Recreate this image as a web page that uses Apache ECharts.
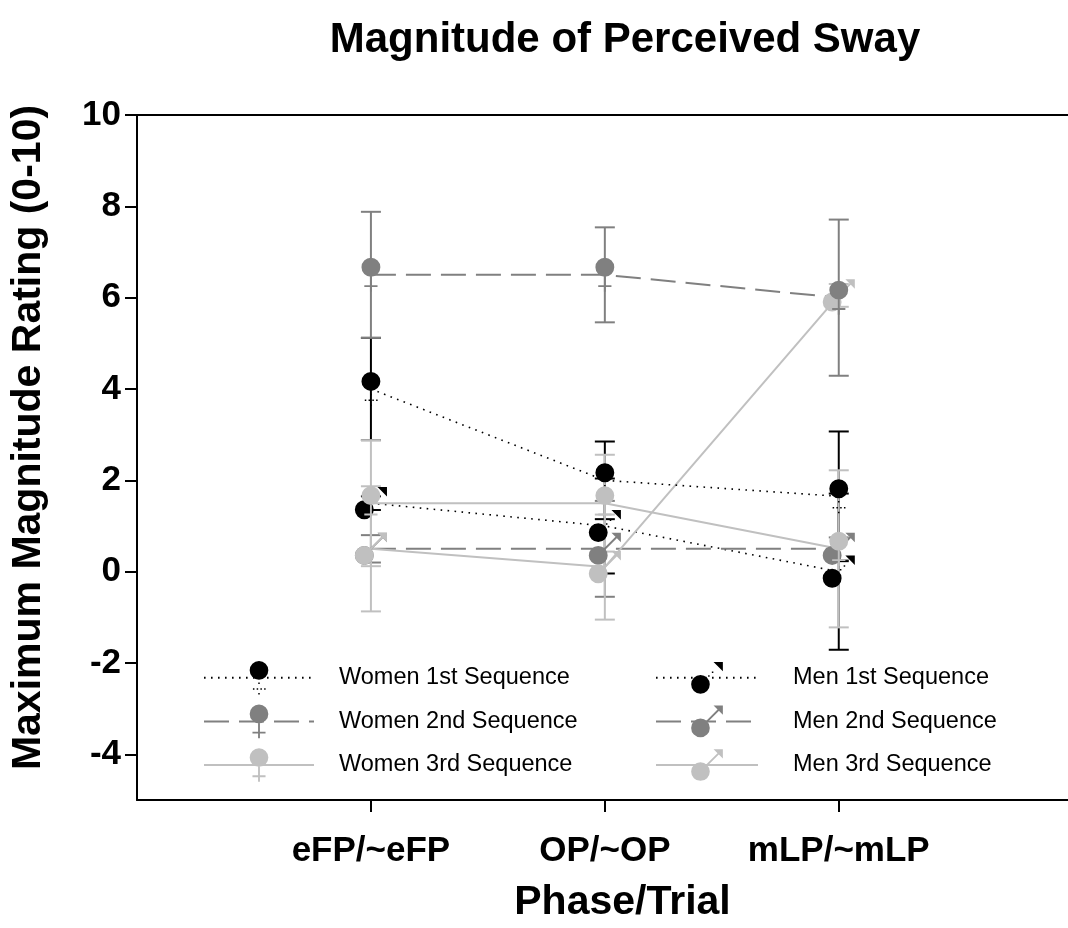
<!DOCTYPE html>
<html>
<head>
<meta charset="utf-8">
<script src="https://cdn.jsdelivr.net/npm/echarts@6/dist/echarts.min.js"></script>
<style>
html,body{margin:0;padding:0;background:#fff;}
#chart{width:1068px;height:928px;}
</style>
</head>
<body>
<div id="chart"></div>
<script>
// ---- data ----
const categories = ['eFP/~eFP', 'OP/~OP', 'mLP/~mLP'];
const yTicks = [-4, -2, 0, 2, 4, 6, 8, 10];
const seriesNames = ['Women 1st Sequence', 'Women 2nd Sequence', 'Women 3rd Sequence',
                     'Men 1st Sequence', 'Men 2nd Sequence', 'Men 3rd Sequence'];
const women1 = [4.0, 2.0, 1.65];
const women1Err = [1.12, 0.85, 1.42];
const women2 = [6.5, 6.5, 6.0];
const women2Err = [1.38, 1.04, 1.71];
const women3 = [1.5, 1.5, 0.5];
const women3Err = [1.38, 1.06, 1.72];
const men1 = [1.5, 1.0, 0.0];
const men1Err = [0.15, 1.04, 1.71];
const men2 = [0.5, 0.5, 0.5];
const men2Err = [0.3, 1.05, 0.25];
const men3 = [0.5, 0.1, 6.05];
const men3Err = [1.37, 1.15, 0.25];

const FONT = '"Liberation Sans", Arial, sans-serif';
const BLACK = '#000000', DGRAY = '#808080', LGRAY = '#c0c0c0';

// gender glyph symbols (36x36 boxes)
const circF = 'M8,10A10,10,0,1,1,28,10A10,10,0,1,1,8,10Z';
const boxF = 'M0,18M36,18';
const FEMALE = 'path://' + boxF + circF + 'M17,20L19,20L19,36L17,36ZM11,29L25,29L25,31L11,31Z';
const FEMALE_DOT = 'path://' + boxF + circF +
  'M17.2,23L18.8,23L18.8,24.6L17.2,24.6ZM17.2,34.4L18.8,34.4L18.8,36L17.2,36Z' +
  'M11.5,29.2L13.1,29.2L13.1,30.8L11.5,30.8ZM15.5,29.2L17.1,29.2L17.1,30.8L15.5,30.8Z' +
  'M19.5,29.2L21.1,29.2L21.1,30.8L19.5,30.8ZM23.5,29.2L25.1,29.2L25.1,30.8L23.5,30.8Z';
const circM = 'M1,25A10,10,0,1,1,21,25A10,10,0,1,1,1,25Z';
const boxM = 'M0,0M36,36';
const headM = 'M35,1L35,11L25,1Z';
const MALE = 'path://' + boxM + circM + 'M16.3,18.3L29.8,4.8L31.2,6.2L17.7,19.7Z' + headM;
const MALE_DOT = 'path://' + boxM + circM +
  'M19.2,15.2L20.8,15.2L20.8,16.8L19.2,16.8ZM23.2,11.2L24.8,11.2L24.8,12.8L23.2,12.8Z' + headM;

function pts(arr) { return arr.map((v, i) => [i + 1, v]); }
function errPts(arr, err) { return arr.map((v, i) => [i + 1, v - err[i], v + err[i]]); }

function errRender(color) {
  return function (params, api) {
    const x = api.value(0), lo = api.value(1), hi = api.value(2);
    const a = api.coord([x, lo]), b = api.coord([x, hi]);
    const hw = 10, st = {stroke: color, lineWidth: 2};
    return {type: 'group', children: [
      {type: 'line', shape: {x1: a[0], y1: a[1], x2: b[0], y2: b[1]}, style: st},
      {type: 'line', shape: {x1: a[0] - hw, y1: a[1], x2: a[0] + hw, y2: a[1]}, style: st},
      {type: 'line', shape: {x1: b[0] - hw, y1: b[1], x2: b[0] + hw, y2: b[1]}, style: st}
    ]};
  };
}

const DOT = [1.6, 5.4];
const DASH = [25, 10];

function lineSeries(name, data, color, dash, width, symbol) {
  return {
    name: name, type: 'line', data: pts(data),
    symbol: symbol, symbolSize: 34, symbolKeepAspect: true,
    showAllSymbol: true,
    itemStyle: {color: color},
    lineStyle: {color: color, width: width, type: dash},
    emphasis: {disabled: true}, animation: false
  };
}
function errSeries(name, data, err, color) {
  return {
    name: name, type: 'custom', data: errPts(data, err),
    renderItem: errRender(color), animation: false, silent: true
  };
}

const series = [
  lineSeries(seriesNames[3], men1, BLACK, DOT, 1.6, MALE_DOT),
  errSeries('m1err', men1, men1Err, BLACK),
  lineSeries(seriesNames[4], men2, DGRAY, DASH, 2, MALE),
  errSeries('m2err', men2, men2Err, DGRAY),
  lineSeries(seriesNames[5], men3, LGRAY, 'solid', 2, MALE),
  errSeries('m3err', men3, men3Err, LGRAY),
  lineSeries(seriesNames[0], women1, BLACK, DOT, 1.6, FEMALE_DOT),
  errSeries('w1err', women1, women1Err, BLACK),
  lineSeries(seriesNames[1], women2, DGRAY, DASH, 2, FEMALE),
  errSeries('w2err', women2, women2Err, DGRAY),
  lineSeries(seriesNames[2], women3, LGRAY, 'solid', 2, FEMALE),
  errSeries('w3err', women3, women3Err, LGRAY)
];

const legendCommon = {
  orient: 'vertical', itemHeight: 42, itemGap: 10,
  selectedMode: false,
  textStyle: {fontFamily: FONT, fontSize: 23.5, color: '#000'}
};

const chart = echarts.init(document.getElementById('chart'), null, {renderer: 'canvas'});
chart.setOption({
  backgroundColor: '#fff',
  animation: false,
  title: {
    text: 'Magnitude of Perceived Sway', left: 620, top: 14, textAlign: 'center',
    textStyle: {fontFamily: FONT, fontSize: 42, fontWeight: 'bold', color: '#000'}
  },
  legend: [
    Object.assign({}, legendCommon, {
      data: seriesNames.slice(0, 3), left: 198, top: 656, itemWidth: 110,
      textStyle: Object.assign({}, legendCommon.textStyle, {padding: [0, 0, 0, 20]})
    }),
    Object.assign({}, legendCommon, {
      data: seriesNames.slice(3), left: 650, top: 656, itemWidth: 102,
      textStyle: Object.assign({}, legendCommon.textStyle, {padding: [0, 0, 0, 30]})
    })
  ],
  grid: {left: 130, right: 0, top: 115, bottom: 128, containLabel: false},
  xAxis: [{
    type: 'value', min: 0, max: 3.98, position: 'bottom',
    name: 'Phase/Trial', nameLocation: 'middle', nameGap: 82,
    nameTextStyle: {fontFamily: FONT, fontSize: 41, fontWeight: 'bold', color: '#000', padding: [0, 0, 0, 40], verticalAlign: 'top'},
    axisLine: {show: true, onZero: false, lineStyle: {color: '#000', width: 2}},
    axisTick: {show: true, length: 12, lineStyle: {color: '#000', width: 2}, customValues: [1, 2, 3]},
    axisLabel: {
      show: true, margin: 34, customValues: [1, 2, 3],
      formatter: v => categories[Math.round(v) - 1] || '',
      fontFamily: FONT, fontSize: 35, fontWeight: 'bold', color: '#000'
    },
    splitLine: {show: false}
  }, {
    type: 'value', min: 0, max: 3.98, position: 'top',
    axisLine: {show: true, onZero: false, lineStyle: {color: '#000', width: 2}},
    axisTick: {show: false}, axisLabel: {show: false}, splitLine: {show: false}
  }],
  yAxis: {
    type: 'value', min: -5, max: 10,
    name: 'Maximum Magnitude Rating (0-10)', nameLocation: 'middle', nameGap: 88, nameRotate: 90,
    nameTextStyle: {fontFamily: FONT, fontSize: 41, fontWeight: 'bold', color: '#000', padding: [0, 0, 0, 40]},
    axisLine: {show: true, onZero: false, lineStyle: {color: '#000', width: 2}},
    axisTick: {show: true, length: 12, lineStyle: {color: '#000', width: 2}, customValues: yTicks},
    axisLabel: {
      show: true, margin: 16, customValues: yTicks,
      fontFamily: FONT, fontSize: 35, fontWeight: 'bold', color: '#000'
    },
    splitLine: {show: false}
  },
  series: series
});
</script>
</body>
</html>
